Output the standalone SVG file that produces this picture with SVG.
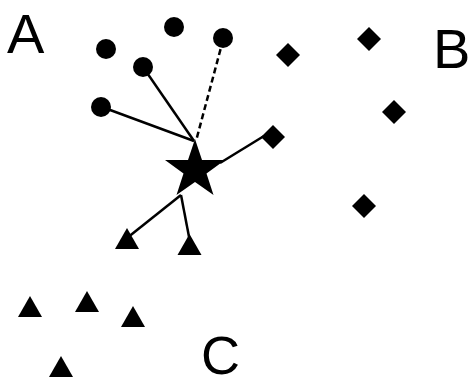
<svg xmlns="http://www.w3.org/2000/svg" xmlns:xlink="http://www.w3.org/1999/xlink" width="471" height="386" viewBox="0 0 471 386">
<style>
.lbl{font-family:"Liberation Sans",Arial,sans-serif;font-size:56px;fill:#000}
.edge{stroke:#000;stroke-width:2.5;fill:none}
.dash{stroke-dasharray:6 3.5}
</style>
<defs>
<circle id="dot" r="10" fill="#000"/>
<polygon id="dia" points="0,-12 12,0 0,12 -12,0" fill="#000"/>
<polygon id="tri" points="0,-11 12,10 -12,10" fill="#000"/>
</defs>
<rect width="471" height="386" fill="#fff"/>
<g id="connectors">
<line class="edge" x1="102" y1="107" x2="194" y2="141"/>
<line class="edge" x1="143" y1="67" x2="194" y2="141"/>
<line class="edge dash" x1="223" y1="40" x2="196" y2="141"/>
<line class="edge" x1="220" y1="163" x2="264" y2="136"/>
<line class="edge" x1="181" y1="195" x2="127" y2="238"/>
<line class="edge" x1="181" y1="195" x2="190" y2="242"/>
</g>
<g id="star"><polygon fill="#000" points="195,139 202,160 225,160 206.5,173.5 213.5,195 195,182 176.5,195 183.5,173.5 165,160 188,160"/></g>
<g id="a1"><use xlink:href="#dot" x="106" y="49"/></g>
<g id="a2"><use xlink:href="#dot" x="174" y="27"/></g>
<g id="a3"><use xlink:href="#dot" x="223" y="38"/></g>
<g id="a4"><use xlink:href="#dot" x="143" y="67"/></g>
<g id="a5"><use xlink:href="#dot" x="101" y="107"/></g>
<g id="b1"><use xlink:href="#dia" x="288" y="55"/></g>
<g id="b2"><use xlink:href="#dia" x="369" y="39"/></g>
<g id="b3"><use xlink:href="#dia" x="394" y="112"/></g>
<g id="b4"><use xlink:href="#dia" x="273" y="137"/></g>
<g id="b5"><use xlink:href="#dia" x="364" y="206"/></g>
<g id="c1"><use xlink:href="#tri" x="127" y="239"/></g>
<g id="c2"><use xlink:href="#tri" x="189.5" y="245"/></g>
<g id="c3"><use xlink:href="#tri" x="30" y="307"/></g>
<g id="c4"><use xlink:href="#tri" x="87" y="302"/></g>
<g id="c5"><use xlink:href="#tri" x="133" y="317"/></g>
<g id="c6"><use xlink:href="#tri" x="61" y="367"/></g>
<text class="lbl" x="7" y="53">A</text>
<text class="lbl" x="433" y="68">B</text>
<text class="lbl" x="201" y="374" style="font-size:54px">C</text>
</svg>
